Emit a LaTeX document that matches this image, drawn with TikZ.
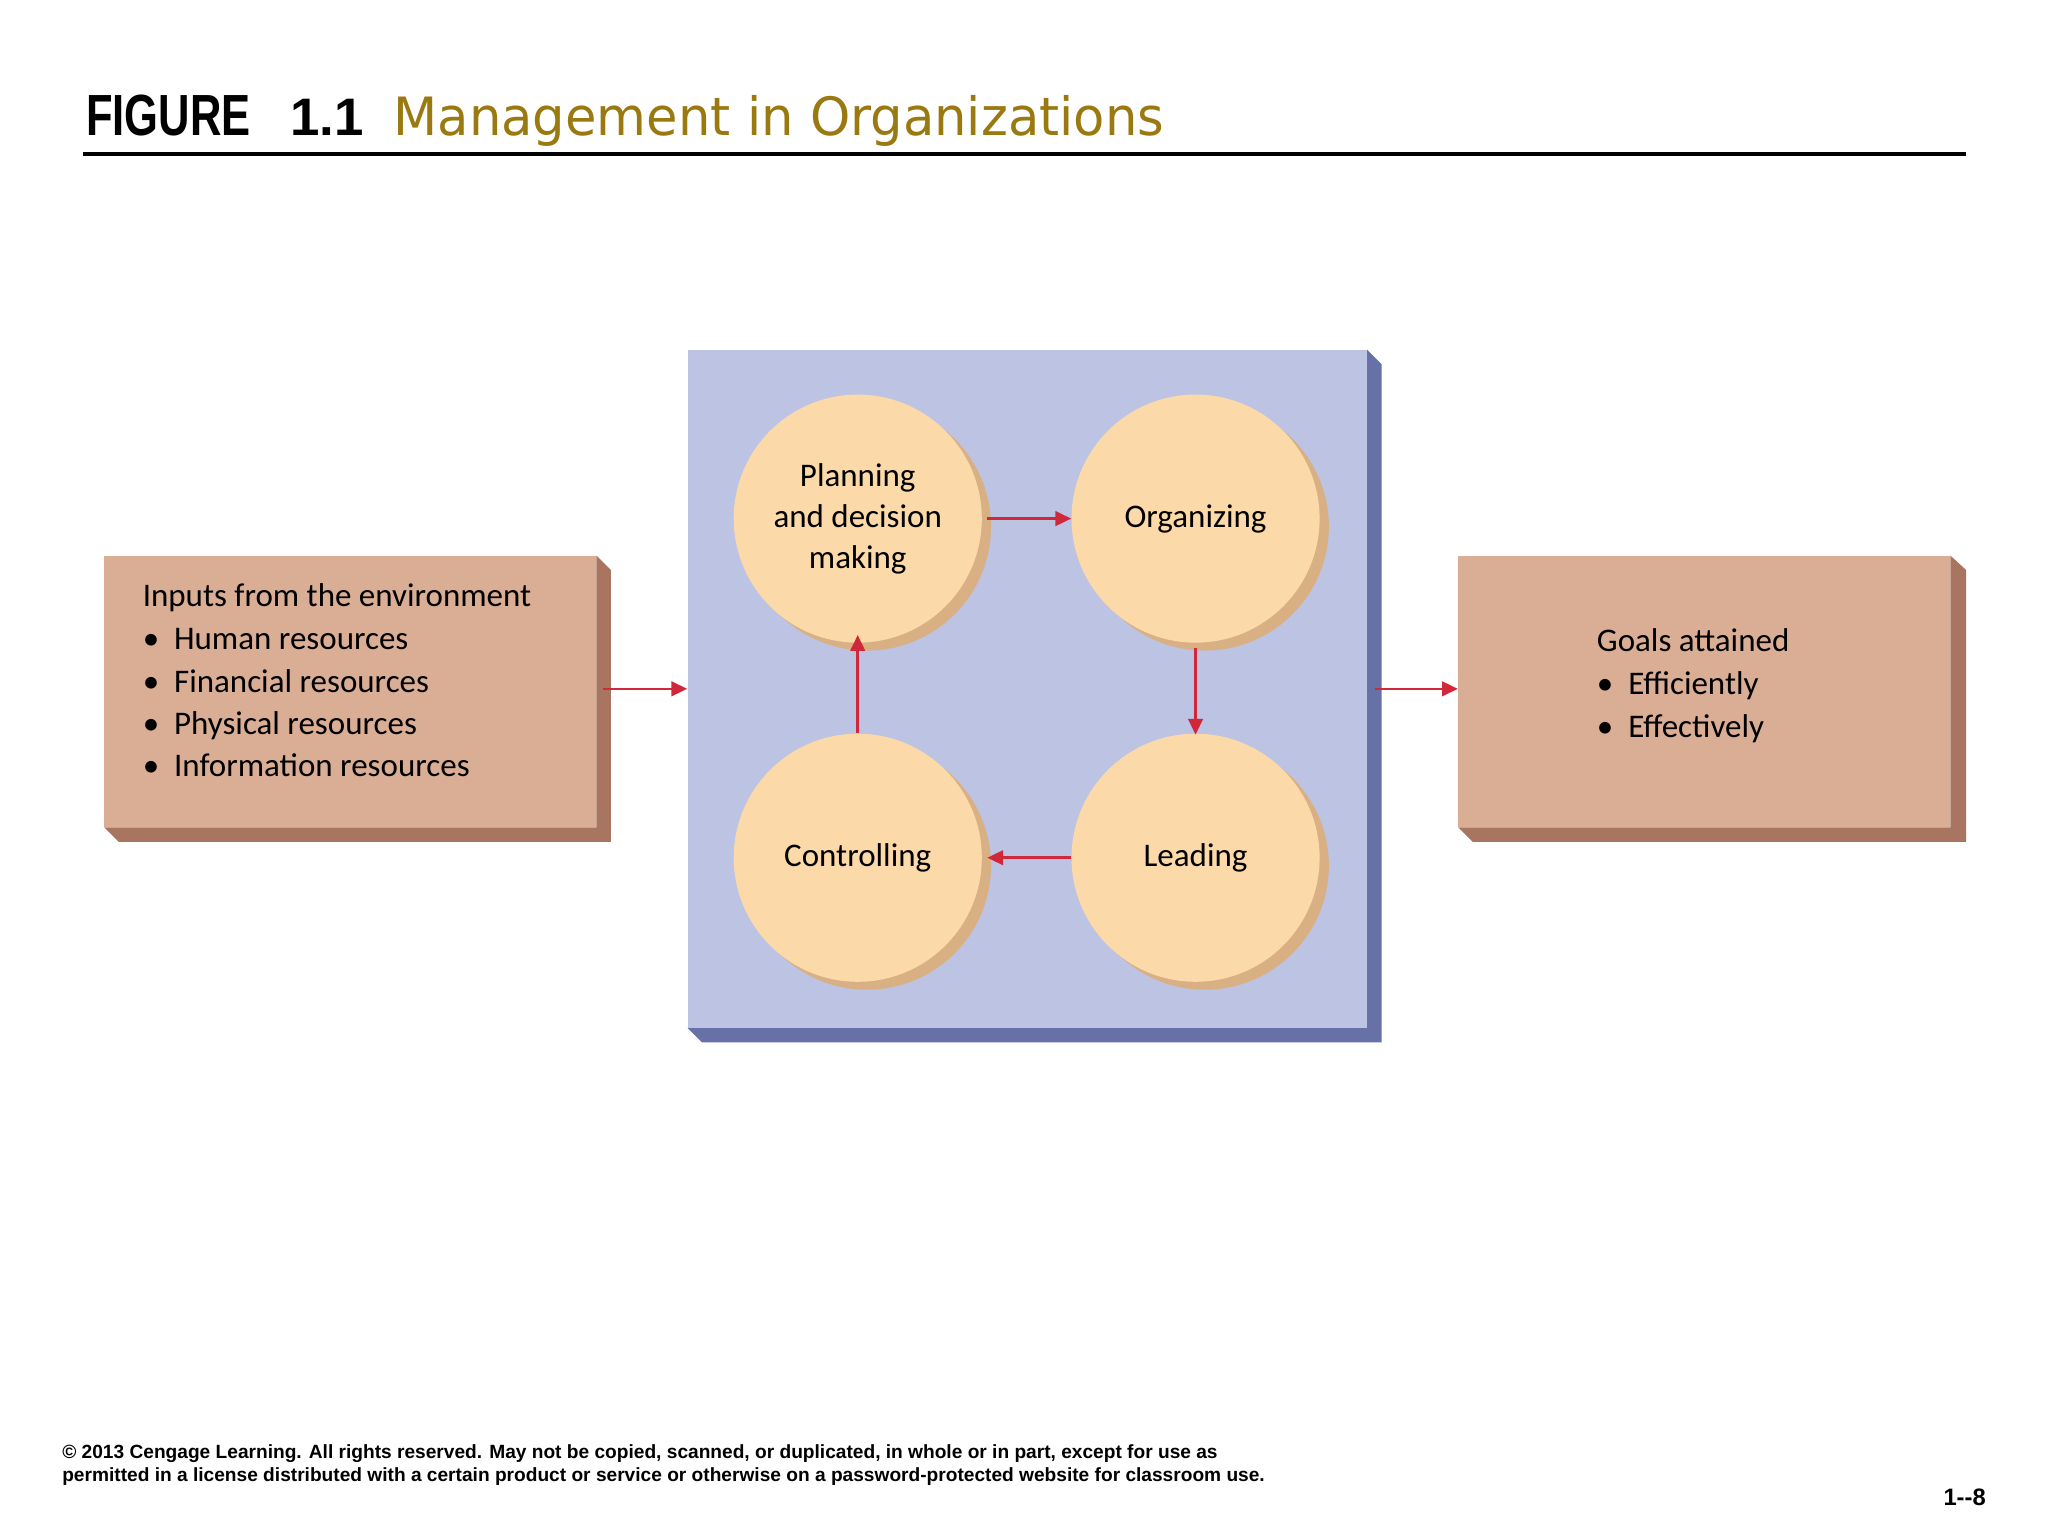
\documentclass[tikz,border=0pt]{standalone}
\usepackage{fontspec}
\setmainfont{Carlito}
\newfontfamily\arial{Liberation Sans}
\newfontfamily\opens{DejaVu Sans}
\usetikzlibrary{arrows.meta}
\definecolor{olive}{HTML}{9A7A10}
\definecolor{bluef}{HTML}{BCC3E3}
\definecolor{blues}{HTML}{6870A8}
\definecolor{boxf}{HTML}{DAAD95}
\definecolor{boxs}{HTML}{A87560}
\definecolor{circf}{HTML}{FCD9A8}
\definecolor{circs}{HTML}{D8B084}
\definecolor{arr}{HTML}{D0283A}
\tikzset{
 circ/.style={circle,minimum size=188pt,fill=circf,align=center,font=\fontsize{25}{31}\selectfont,inner sep=0pt},
 flow/.style={draw=arr,line width=2pt,-{Triangle[length=12pt,width=11pt]}},
 txt/.style={font=\fontsize{25}{32}\selectfont,align=left,anchor=north west,inner sep=0pt}
}
\begin{document}
\begin{tikzpicture}[x=1pt,y=-1pt]
\useasboundingbox[fill=white] (0,0) rectangle (1552,1164);
% title
\node[anchor=base west,inner sep=0pt] (fig) at (65,103) {\scalebox{0.75}[1]{\arial\bfseries\fontsize{44}{44}\selectfont FIGURE}};
\node[anchor=base west,inner sep=0pt] (num) at (220,103) {\arial\bfseries\fontsize{40}{40}\selectfont 1.1};
\node[anchor=base west,inner sep=0pt,text=olive] (ttl) at (298,103) {\opens\fontsize{40}{40}\selectfont\scalebox{0.97}[1]{Management in Organizations}};
\draw[line width=3pt] (63,117) -- (1490,117);
% center box
\fill[blues] (521,779) -- (532,790) -- (1047,790) -- (1047,276) -- (1036,265) -- (1036,779) -- cycle;
\fill[bluef] (521,265) rectangle (1036,779);
\node[inner sep=0pt,minimum width=515pt,minimum height=514pt] (center) at (778.5,522) {};
% left box
\fill[boxs] (79,627) -- (90,638) -- (463,638) -- (463,432) -- (452,421) -- (452,627) -- cycle;
\fill[boxf] (79,421) rectangle (452,627);
\node[inner sep=0pt,minimum width=373pt,minimum height=206pt] (left) at (265.5,524) {};
% right box
\fill[boxs] (1105,627) -- (1116,638) -- (1490,638) -- (1490,432) -- (1478,421) -- (1478,627) -- cycle;
\fill[boxf] (1105,421) rectangle (1478,627);
\node[inner sep=0pt,minimum width=373pt,minimum height=206pt] (right) at (1291.5,524) {};
\node[txt] (lt) at (108,442) {Inputs from the environment\\[1pt]
 \textbullet\ \ Human resources\\ \textbullet\ \ Financial resources\\ \textbullet\ \ Physical resources\\ \textbullet\ \ Information resources};
\node[txt] (rt) at (1210,476) {Goals attained\\[1pt] \textbullet\ \ Efficiently\\ \textbullet\ \ Effectively};
% circles
\foreach \n/\x/\y in {p/650/393,o/906/393,c/650/650,l/906/650}{
 \fill[circs] (\x+7,\y+6) circle (94);
}
\node[circ] (p) at (650,393) {Planning\\and decision\\making};
\node[circ] (o) at (906,393) {Organizing};
\node[circ] (c) at (650,650) {Controlling};
\node[circ] (l) at (906,650) {Leading};
% arrows
\draw[flow] (p.east) ++(4,0) coordinate (pe) -- (o.west);
\draw[flow] (o.south) ++(0,4) -- ([yshift=-1pt]l.north);
\draw[flow] (l.west) -- ([xshift=4pt]c.east);
\draw[flow] (c.north) -- ([yshift=6pt]p.south);
\draw[flow] ([xshift=5pt]left.east |- 0,522) -- (center.west |- 0,522);
\draw[flow] ([xshift=6pt]center.east |- 0,522) -- (right.west |- 0,522);
% footer
\node[anchor=base west,inner sep=0pt,align=left,font=\arial\bfseries\fontsize{14.5}{18}\selectfont] (foot) at (47,1123) {\copyright\ 2013 Cengage Learning. All rights reserved. May not be copied, scanned, or duplicated, in whole or in part, except for use as\\permitted in a license distributed with a certain product or service or otherwise on a password-protected website for classroom use.};
\node[anchor=base east,inner sep=0pt,font=\arial\bfseries\fontsize{18}{18}\selectfont] (pg) at (1505,1141) {1--8};
\end{tikzpicture}
\end{document}
